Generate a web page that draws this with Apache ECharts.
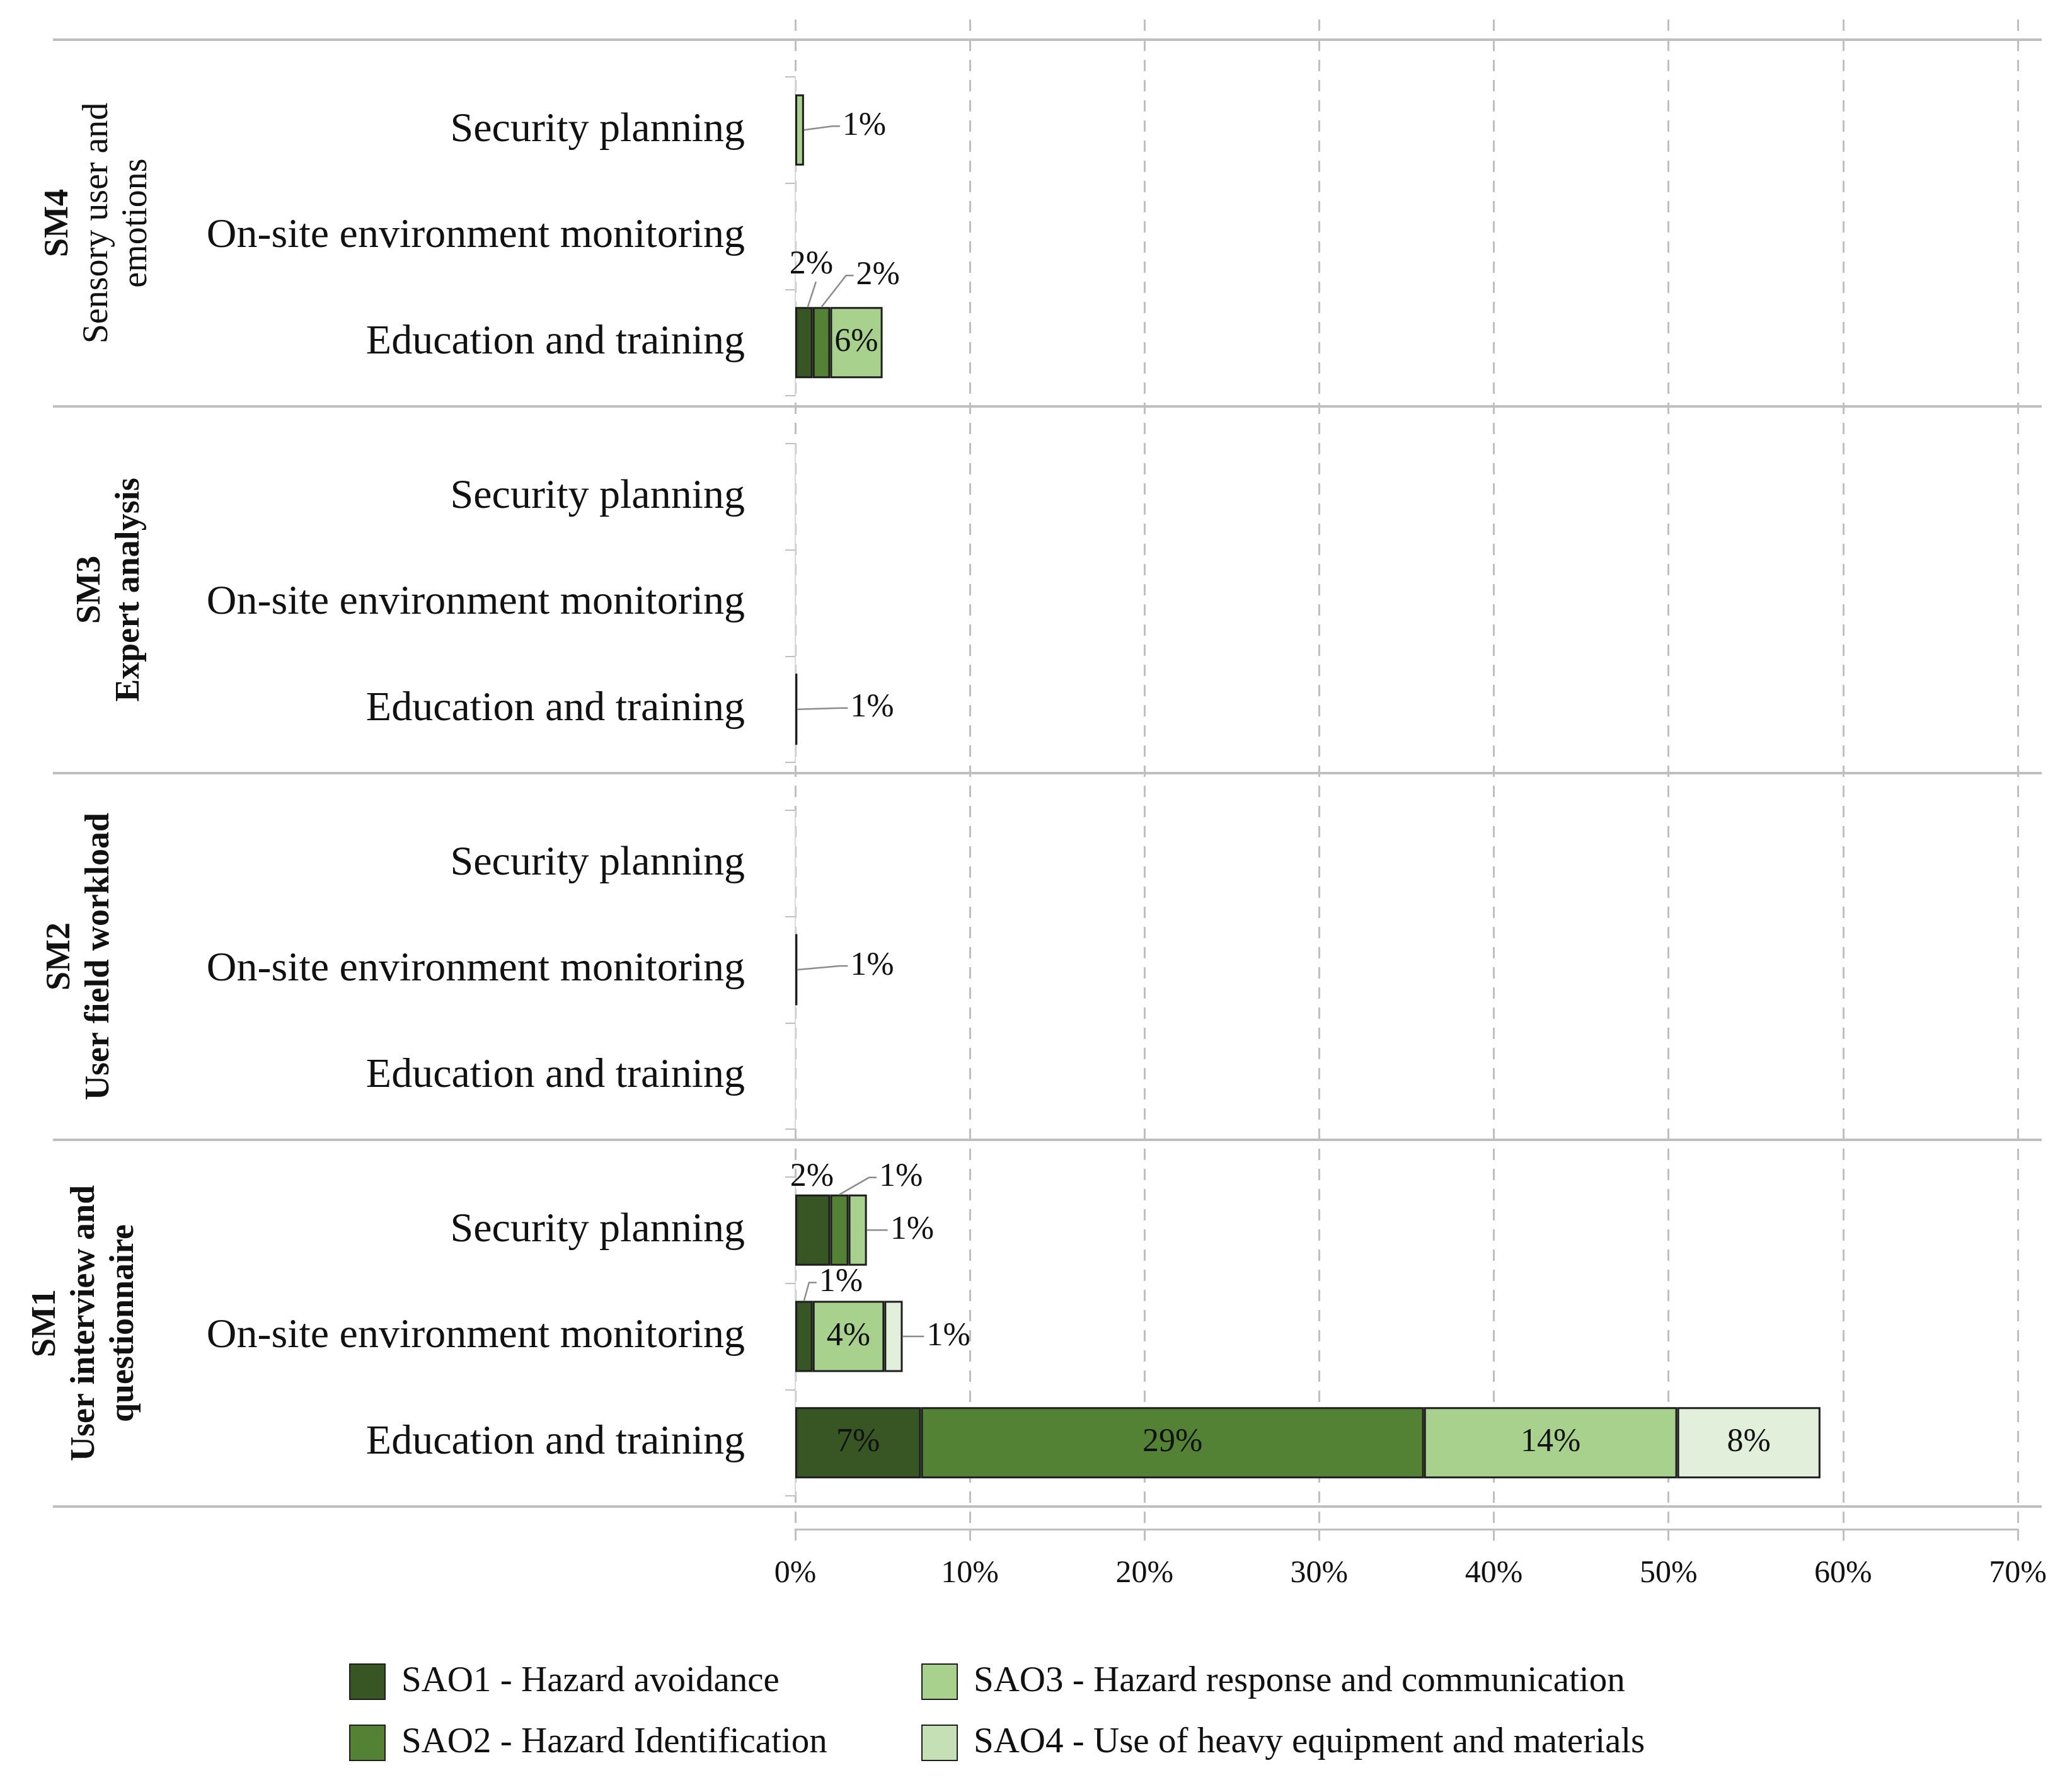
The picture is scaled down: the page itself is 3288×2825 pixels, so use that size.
<!DOCTYPE html>
<html>
<head>
<meta charset="utf-8">
<script src="https://cdn.jsdelivr.net/npm/echarts@6/dist/echarts.min.js"></script>
<style>
  html, body { margin: 0; background: #fff; }
  #main { width: 3288px; height: 2825px; }
</style>
</head>
<body>
<div id="main"></div>
<script>
// rows inside every group, bottom to top
const tasks = ['Education and training', 'On-site environment monitoring', 'Security planning'];
// groups, top to bottom
const groups = ['SM4', 'SM3', 'SM2', 'SM1'];
const groupTitles = {
  SM4: ['Sensory user and', 'emotions'],
  SM3: ['Expert analysis'],
  SM2: ['User field workload'],
  SM1: ['User interview and', 'questionnaire']
};
const outcomes = [
  'SAO1 - Hazard avoidance',
  'SAO2 - Hazard Identification',
  'SAO3 - Hazard response and communication',
  'SAO4 - Use of heavy equipment and materials'
];
const xTicks = [0, 10, 20, 30, 40, 50, 60, 70];

// bar lengths (%), one row per outcome: [education, on-site, security]
const sm4 = [[1.0, 0, 0], [1.0, 0, 0], [3.0, 0, 0.5], [0, 0, 0]];
const sm3 = [[0.12, 0, 0], [0, 0, 0], [0, 0, 0], [0, 0, 0]];
const sm2 = [[0, 0.12, 0], [0, 0, 0], [0, 0, 0], [0, 0, 0]];
const sm1 = [[7.2, 1.0, 2.0], [28.8, 0, 1.05], [14.5, 4.1, 1.05], [8.2, 1.05, 0]];

// printed labels, same layout
const sm4Text = [['2%', '', ''], ['2%', '', ''], ['6%', '', '1%'], ['', '', '']];
const sm3Text = [['1%', '', ''], ['', '', ''], ['', '', ''], ['', '', '']];
const sm2Text = [['', '1%', ''], ['', '', ''], ['', '', ''], ['', '', '']];
const sm1Text = [['7%', '1%', '2%'], ['29%', '', '1%'], ['14%', '4%', '1%'], ['8%', '1%', '']];

const values = { SM4: sm4, SM3: sm3, SM2: sm2, SM1: sm1 };
const texts = { SM4: sm4Text, SM3: sm3Text, SM2: sm2Text, SM1: sm1Text };

// styling
const colors = ['#375623', '#548235', '#A9D18E', '#E2EFDA'];
const legendColors = ['#375623', '#548235', '#A9D18E', '#C5E0B4'];
const font = "'Liberation Serif', 'Times New Roman', serif";
const sepColor = '#bfbfbf';
// extra gap between a group title and the band axis
const titleShift = { SM4: 0, SM3: 12, SM2: 60, SM1: 21 };
// labels placed outside their bar (group-outcome-task).
// at: which edge of the bar the leader starts from; text: label left-middle relative to it;
// tip: optional end of the leader relative to it; line: draw a leader at all
const callouts = {
  'SM4-0-0': { at: 'top', text: [-23, -67], tip: [19, -40], line: true },
  'SM4-1-0': { at: 'top', text: [55, -50], line: true },
  'SM4-2-2': { at: 'right', text: [61, -6], line: true },
  'SM3-0-0': { at: 'right', text: [84, -2], line: true },
  'SM2-0-1': { at: 'right', text: [84, -6], line: true },
  'SM1-0-1': { at: 'top', text: [24, -29], line: true },
  'SM1-0-2': { at: 'top', text: [-36, -27], line: false },
  'SM1-1-2': { at: 'top', text: [63, -27], line: true },
  'SM1-2-2': { at: 'right', text: [37, 0], line: true },
  'SM1-3-1': { at: 'right', text: [38, 0], line: true }
};

const H = 2825;
const plotLeft = 1262, plotRight = 86;
const sepTop = 63, groupH = 582;
const barShare = 0.67;

const grids = [];
const xAxes = [];
const yAxes = [];
const series = [];

groups.forEach(function (g, gi) {
  const top = sepTop + groupH * gi + 59;
  grids.push({ left: plotLeft, right: plotRight, top: top, height: 506 });
  xAxes.push({ type: 'value', gridIndex: gi, min: 0, max: 70, show: false, splitLine: { show: false } });
  yAxes.push({
    type: 'category', gridIndex: gi, data: tasks,
    axisLine: { show: true, lineStyle: { color: '#d9d9d9', width: 2 } },
    axisTick: { show: true, length: 16, lineStyle: { color: sepColor, width: 2 } },
    axisLabel: { fontFamily: font, fontSize: 66, color: '#111', margin: 80 },
    splitLine: { show: false }
  });

  const notes = [];
  const base = [0, 0, 0];
  outcomes.forEach(function (name, si) {
    const data = values[g][si].map(function (v, ti) {
      const txt = texts[g][si][ti];
      const spot = callouts[g + '-' + si + '-' + ti];
      if (txt && spot) {
        notes.push({ start: base[ti], end: base[ti] + v, task: ti, text: txt, spot: spot });
      }
      base[ti] += v;
      const item = { value: v === 0 ? '-' : v };
      item.label = { show: !!txt && !spot, formatter: txt };
      return item;
    });
    series.push({
      name: name, type: 'bar', stack: g, xAxisIndex: gi, yAxisIndex: gi,
      barWidth: (barShare * 100) + '%', data: data,
      itemStyle: { color: colors[si], borderColor: '#1e1e1e', borderWidth: 3 },
      label: { position: 'inside', fontFamily: font, fontSize: 52, color: '#111' }
    });
  });

  // outside labels with their leader lines
  series.push({
    type: 'custom', name: g + ' callouts', xAxisIndex: gi, yAxisIndex: gi, z: 5,
    encode: { x: [0, 1], y: 2 },
    data: notes.map(function (n) { return [n.start, n.end, n.task]; }),
    renderItem: function (params, api) {
      const n = notes[params.dataIndex];
      const a = api.coord([api.value(0), api.value(2)]);
      const b = api.coord([api.value(1), api.value(2)]);
      const half = api.size([0, 1])[1] * barShare / 2;
      const ax = n.spot.at === 'right' ? b[0] : (a[0] + b[0]) / 2;
      const ay = n.spot.at === 'right' ? b[1] : b[1] - half;
      const tx = ax + n.spot.text[0];
      const ty = ay + n.spot.text[1];
      const children = [];
      if (n.spot.line) {
        const pts = n.spot.tip
          ? [[ax + 6, ay], [ax + n.spot.tip[0], ay + n.spot.tip[1]]]
          : [[ax, ay], [tx - 16, ty], [tx - 4, ty]];
        children.push({
          type: 'polyline', shape: { points: pts },
          style: { stroke: '#8c8c8c', lineWidth: 2.5, fill: null }
        });
      }
      children.push({
        type: 'text', x: tx, y: ty,
        style: { text: n.text, fill: '#111', fontFamily: font, fontSize: 52, align: 'left', verticalAlign: 'middle' }
      });
      return { type: 'group', children: children };
    }
  });
});

// dashed gridlines and the percent axis
grids.push({ left: plotLeft, right: plotRight, top: 31, bottom: H - 2427 });
xAxes.push({
  type: 'value', gridIndex: 4, min: 0, max: 70, interval: 10,
  axisLine: { show: true, lineStyle: { color: sepColor, width: 3 } },
  axisTick: { show: true, length: 18, lineStyle: { color: sepColor, width: 3 } },
  axisLabel: {
    fontFamily: font, fontSize: 50, color: '#111', margin: 46,
    formatter: function (v) { return xTicks.indexOf(v) >= 0 ? v + '%' : ''; }
  },
  splitLine: { show: true, lineStyle: { color: sepColor, width: 3, type: [18, 14] } }
});
yAxes.push({ type: 'value', gridIndex: 4, show: false });

// group bands with their titles
grids.push({ left: 250, right: 48, top: sepTop, bottom: H - (sepTop + groupH * 4) });
xAxes.push({ type: 'value', gridIndex: 5, show: false });
yAxes.push({
  type: 'category', gridIndex: 5, data: groups.slice().reverse(),
  axisLine: { show: false },
  axisTick: { show: true, length: 166, lineStyle: { color: sepColor, width: 4 } },
  splitLine: { show: true, lineStyle: { color: sepColor, width: 4 } },
  axisLabel: {
    rotate: 90, margin: 1, interval: 0,
    formatter: function (v) {
      const style = v === 'SM4' ? 't' : 'tb';
      const lines = ['{b|' + v + '}'].concat(groupTitles[v].map(function (t) { return '{' + style + '|' + t + '}'; }));
      lines.push('{gap' + titleShift[v] + '| }');
      return lines.join('\n');
    },
    rich: {
      b: { fontFamily: font, fontSize: 54, fontWeight: 'bold', color: '#111', lineHeight: 62, align: 'center' },
      tb: { fontFamily: font, fontSize: 54, fontWeight: 'bold', color: '#111', lineHeight: 62, align: 'center' },
      t: { fontFamily: font, fontSize: 56, color: '#111', lineHeight: 62, align: 'center' },
      gap0: { fontSize: 1, lineHeight: 1 },
      gap12: { fontSize: 1, lineHeight: 12 },
      gap21: { fontSize: 1, lineHeight: 21 },
      gap60: { fontSize: 1, lineHeight: 60 }
    }
  }
});

const legendBase = {
  orient: 'vertical', icon: 'rect', itemWidth: 56, itemHeight: 56, itemGap: 39,
  textStyle: { fontFamily: font, fontSize: 57, color: '#111', padding: [0, 0, 0, 21] },
  selectedMode: false
};
const legendItems = outcomes.map(function (name, i) {
  return { name: name, itemStyle: { color: legendColors[i] } };
});

const chart = echarts.init(document.getElementById('main'), null, { renderer: 'canvas' });
chart.setOption({
  backgroundColor: '#ffffff',
  animation: false,
  grid: grids,
  xAxis: xAxes,
  yAxis: yAxes,
  legend: [
    Object.assign({ left: 549, top: 2635, data: legendItems.slice(0, 2) }, legendBase),
    Object.assign({ left: 1457, top: 2635, data: legendItems.slice(2, 4) }, legendBase)
  ],
  series: series
});
</script>
</body>
</html>
